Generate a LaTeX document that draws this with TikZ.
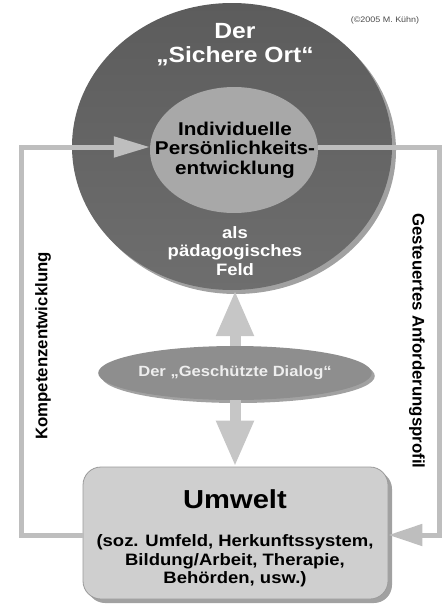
\documentclass[tikz,border=0pt]{standalone}
\usepackage{fontspec}
\setmainfont{Liberation Sans}[FakeStretch=1.12]
\newfontfamily\rotfont{Liberation Sans}
\usetikzlibrary{shapes.geometric,arrows.meta,shadows}
\definecolor{outertop}{HTML}{5C5C5C}
\definecolor{outerbot}{HTML}{6E6E6E}
\definecolor{innergray}{HTML}{A8A8A8}
\definecolor{dialoggray}{HTML}{8E8E8E}
\definecolor{boxgray}{HTML}{CFCFCF}
\definecolor{boxline}{HTML}{9A9A9A}
\definecolor{linegray}{HTML}{BEBEBE}
\definecolor{arrowgray}{HTML}{C6C6C6}
\definecolor{shadowgray}{HTML}{8A8A8A}
\definecolor{dialogtext}{HTML}{EEEEEE}
\tikzset{
  shad/.style={drop shadow={shadow xshift=#1, shadow yshift=-#1, fill=shadowgray, opacity=0.8}},
  fb/.style={draw=linegray, line width=5pt},
  blk/.style={draw=arrowgray, line width=11pt, -{Triangle[width=35pt,length=46pt]}},
  lbl/.style={font=\bfseries\fontsize{16.5}{18.5}\selectfont, align=center, inner sep=0pt},
  rotlbl/.style={font=\rotfont\bfseries\fontsize{16.8}{18}\selectfont, inner sep=0pt},
}
\begin{document}
\begin{tikzpicture}[x=1pt,y=-1pt]
\useasboundingbox (0,0) rectangle (443,605);
% shapes
\node[ellipse, minimum width=320pt, minimum height=287pt, inner sep=0pt,
      top color=outertop, bottom color=outerbot, shad=4pt] (outer) at (232,146.5) {};
\node[ellipse, minimum width=168pt, minimum height=126pt, inner sep=0pt,
      fill=innergray] (inner) at (234,150) {};
\node[rectangle, rounded corners=18pt, minimum width=305pt, minimum height=132pt,
      fill=boxgray, draw=boxline, line width=0.8pt, shad=4pt] (umwelt) at (235.5,533) {};
\node[ellipse, minimum width=226pt, minimum height=54pt, inner sep=0pt,
      fill=dialoggray, shad=3pt, text=dialogtext,
      font=\bfseries\fontsize{14.8}{16}\selectfont] (dialog) at (235,373) {Der „Geschützte Dialog“};
% feedback connectors
\coordinate (lt) at (21,147);
\coordinate (lb) at (21,535);
\coordinate (rt) at (439,147);
\coordinate (rb) at (439,535);
\draw[fb, -{Triangle[width=20pt,length=36pt]}] (umwelt.west |- lb) -- (lb) -- (lt) -- (inner.west |- lt);
\draw[fb, -{Triangle[width=21pt,length=34pt]}] (inner.east |- rt) -- (rt) -- (rb) -- (umwelt.east |- rb);
% block arrows
\draw[blk] (dialog.north) -- (dialog.north |- outer.south);
\draw[blk] (dialog.south) -- (dialog.south |- umwelt.north);
% texts
\node[font=\bfseries\fontsize{22}{24}\selectfont, text=white, align=center, inner sep=0pt] (title) at (235,44.5) {Der\\„Sichere Ort“};
\node[font=\bfseries\fontsize{18.5}{19.5}\selectfont, align=center, inner sep=0pt] (innertext) at (235,150) {Individuelle\\Persönlichkeits-\\entwicklung};
\node[lbl, text=white] (feld) at (235,251) {als\\pädagogisches\\Feld};
\node[font=\bfseries\fontsize{26}{28}\selectfont, anchor=base, inner sep=0pt] (umtitle) at (235,508) {Umwelt};
\node[lbl] (umsub) at (235,561) {(soz. Umfeld, Herkunftssystem,\\Bildung/Arbeit, Therapie,\\Behörden, usw.)};
\node[rotlbl, rotate=90] (komp) at (43,346) {Kompetenzentwicklung};
\node[rotlbl, rotate=-90] (gest) at (417,341) {Gesteuertes Anforderungsprofil};
\node[font=\fontsize{8}{9}\selectfont, text=black!70, inner sep=0pt] (copy) at (385,20) {(©2005 M. Kühn)};
\end{tikzpicture}
\end{document}
